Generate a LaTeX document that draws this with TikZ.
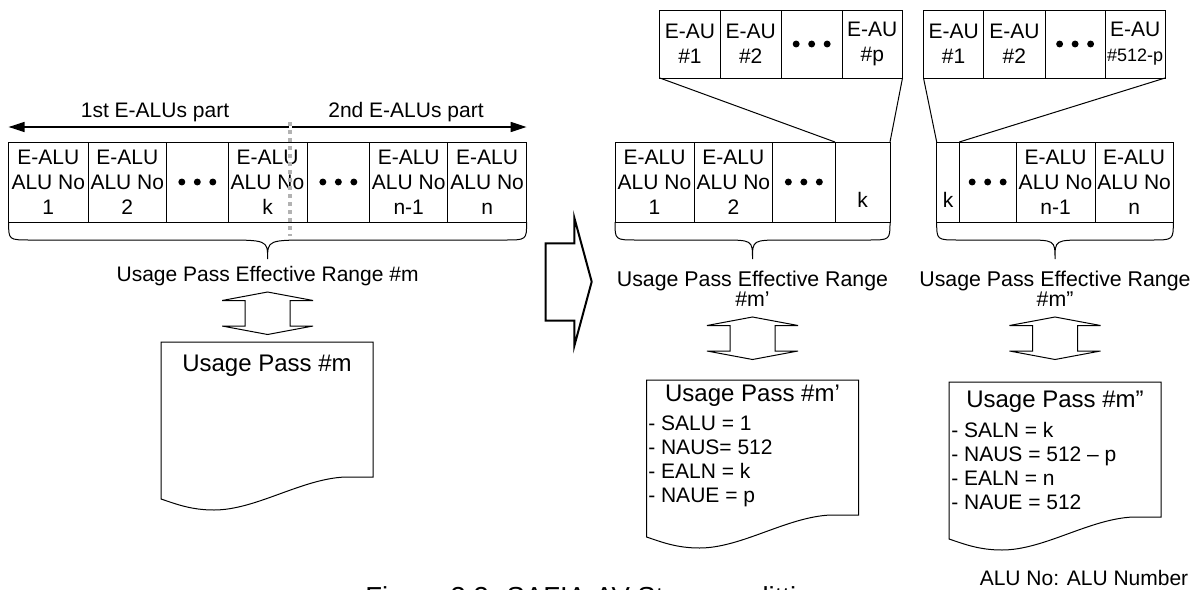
\documentclass[tikz,border=0pt]{standalone}
\usepackage{fontspec}
\setmainfont{Liberation Sans}
\usetikzlibrary{arrows.meta,positioning}
\newdimen\px \px=0.75pt
\newcommand{\cellfont}{\fontsize{15.75pt}{18.75pt}\selectfont}
\newcommand{\rangefont}{\fontsize{16pt}{15pt}\selectfont}
\newcommand{\titlefont}{\fontsize{18pt}{20pt}\selectfont}
\newcommand{\listfont}{\fontsize{15.75pt}{18pt}\selectfont}
\newcommand{\threedots}[1]{\foreach \dx in {-15.5,0,15.5} \fill ([xshift=\dx\px]#1.center) circle[radius=2.6pt];}
% brace below a row of cells: left x, right x, tip x, curve width
\newcommand{\rangebrace}[4]{\draw[line] (#1,222) .. controls (#1,240) .. (#1+22,240) -- (#3-#4,240)
  .. controls (#3,240) .. (#3,259) .. controls (#3,240) .. (#3+#4,240) -- (#2-22,240) .. controls (#2,240) .. (#2,222);}
\newcommand{\passarrow}[2]{\draw[line, shift={(#1,#2)}] (0,0) -- (45.5,8.5) -- (22.5,8.5) -- (22.5,34) -- (45.5,34)
  -- (0,42.5) -- (-45.5,34) -- (-22.5,34) -- (-22.5,8.5) -- (-45.5,8.5) -- cycle;}
\newcommand{\docshape}[2]{\draw[line, shift={(#1,#2)}] (0,0) -- (212,0) -- (212,135) -- (184,135)
  .. controls (140,137) and (95,168) .. (53,168) .. controls (30,168) and (15,162) .. (0,157) -- cycle;}

\begin{document}
\begin{tikzpicture}[x=0.75pt, y=-0.75pt,
  line/.style={line width=0.75pt},
  cell/.style={draw, line width=0.75pt, inner sep=0pt, outer sep=0pt, minimum height=80\px,
               align=center, font=\cellfont},
  aucell/.style={cell, minimum height=68\px},
  dimarrow/.style={line width=1.1pt, -{Triangle[length=12pt, width=7.5pt]}},
  cutline/.style={line width=3pt, gray!60, dash pattern=on 3pt off 3pt},
  label/.style={font=\cellfont, inner sep=0pt}
]
\useasboundingbox (0,0) rectangle (1199,589);

% original range
\node[cell, minimum width=79.4\px] (l1) at (48.3,182) {E-ALU\\ALU No\\1};
\node[cell, minimum width=78.6\px, right=0pt of l1] (l2) {E-ALU\\ALU No\\2};
\node[cell, minimum width=61.4\px, right=0pt of l2] (l3) {};
\node[cell, minimum width=79\px, right=0pt of l3] (l4) {E-ALU\\ALU No\\k};
\node[cell, minimum width=62.7\px, right=0pt of l4] (l5) {};
\node[cell, minimum width=78\px, right=0pt of l5] (l6) {E-ALU\\ALU No\\n-1};
\node[cell, minimum width=78.9\px, right=0pt of l6] (l7) {E-ALU\\ALU No\\n};
\threedots{l3}
\threedots{l5}

\coordinate (split) at (290.5,127);
\draw[dimarrow] ([xshift=-1.5\px]split) -- (split -| l1.west);
\draw[dimarrow] ([xshift=1.5\px]split) -- (split -| l7.east);
\node[label] (part1) at (155,112) {1st E-ALUs part};
\node[label] (part2) at (406,112) {2nd E-ALUs part};
\coordinate (cutTop) at (290,122);
\coordinate (cutBot) at (290,236);
\draw[cutline] (cutTop) -- (cutBot);

\rangebrace{8.6}{526.6}{267.6}{47}
\node[label] (rngL) at (267.6,276) {Usage Pass Effective Range \#m};
\passarrow{267.6}{292}
\docshape{161}{342}
\node[font=\titlefont, inner sep=0pt] (passL) at (267,366) {Usage Pass \#m};

% split arrow
\draw[line width=1.5pt] (545.7,243.3) -- (574.3,243.3) -- (574.3,217.7) -- (591.7,281.7) -- (574.3,346)
  -- (574.3,320.7) -- (545.7,320.7) -- cycle;

% first part
\node[cell, minimum width=79\px] (r1) at (654.5,182) {E-ALU\\ALU No\\1};
\node[cell, minimum width=78.7\px, right=0pt of r1] (r2) {E-ALU\\ALU No\\2};
\node[cell, minimum width=62.3\px, right=0pt of r2] (r3) {};
\node[cell, minimum width=55\px, right=0pt of r3] (r4) {\mbox{}\\\mbox{}\\k};
\threedots{r3}

\node[aucell, minimum width=60.3\px] (a1) at (689.95,44) {E-AU\\\#1};
\node[aucell, minimum width=61.2\px, right=0pt of a1] (a2) {E-AU\\\#2};
\node[aucell, minimum width=60.7\px, right=0pt of a2] (a3) {};
\node[aucell, minimum width=60.5\px, right=0pt of a3] (a4) {E-AU\\\#p};
\threedots{a3}
\draw[line] (a1.south west) -- (r4.north west);
\draw[line] (a4.south east) -- (r4.north east);

\rangebrace{615}{890}{752.5}{32}
\node[font=\rangefont, align=center, inner sep=0pt] (rngA) at (752.5,289) {Usage Pass Effective Range\\\#m’};
\passarrow{752.5}{317}
\docshape{646.5}{380}
\node[font=\titlefont, inner sep=0pt] (passA) at (752.5,396) {Usage Pass \#m’};
\node[font=\listfont, align=left, anchor=west, inner sep=0pt] (listA) at (648,461)
  {- SALU = 1\\- NAUS= 512\\- EALN = k\\- NAUE = p};

% second part
\node[cell, minimum width=22.6\px] (s1) at (948,182) {\mbox{}\\\mbox{}\\k};
\node[cell, minimum width=56.7\px, right=0pt of s1] (s2) {};
\node[cell, minimum width=79\px, right=0pt of s2] (s3) {E-ALU\\ALU No\\n-1};
\node[cell, minimum width=78.3\px, right=0pt of s3] (s4) {E-ALU\\ALU No\\n};
\threedots{s2}

\node[aucell, minimum width=60.3\px] (b1) at (953.65,44) {E-AU\\\#1};
\node[aucell, minimum width=61.2\px, right=0pt of b1] (b2) {E-AU\\\#2};
\node[aucell, minimum width=60.2\px, right=0pt of b2] (b3) {};
\node[aucell, minimum width=59.9\px, right=0pt of b3] (b4) {E-AU\\{\fontsize{13.5pt}{18.75pt}\selectfont\#512-p}};
\threedots{b3}
\draw[line] (b1.south west) -- (s1.north west);
\draw[line] (b4.south east) -- (s1.north east);

\rangebrace{936.7}{1173.3}{1055}{32}
\node[font=\rangefont, align=center, inner sep=0pt] (rngB) at (1055,289) {Usage Pass Effective Range\\\#m”};
\passarrow{1055}{317}
\docshape{949}{382}
\node[font=\titlefont, inner sep=0pt] (passB) at (1055,402) {Usage Pass \#m”};
\node[font=\listfont, align=left, anchor=west, inner sep=0pt] (listB) at (951,466)
  {- SALN = k\\- NAUS = 512 – p\\- EALN = n\\- NAUE = 512};

\node[label] (legend) at (1084,578) {ALU No: ALU Number};
\node[font=\fontsize{20.6pt}{24pt}\selectfont, anchor=base west, inner sep=0pt] (caption) at (365,606)
  {Figure 3.3: SAFIA-AV Stream splitting};
\end{tikzpicture}
\end{document}
